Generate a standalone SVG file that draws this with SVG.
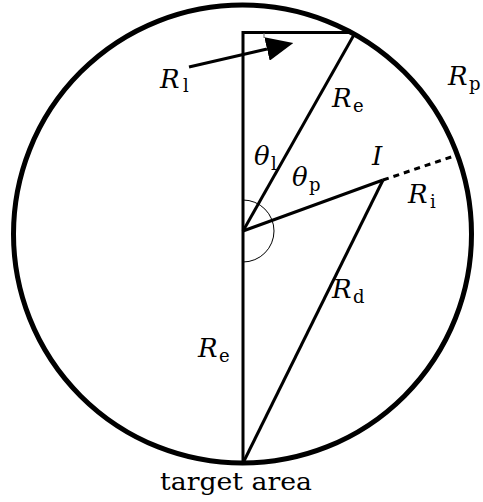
<svg xmlns="http://www.w3.org/2000/svg" width="483" height="502" viewBox="0 0 483 502">
<style>
  .ln{stroke:#000;stroke-width:3;fill:none;stroke-linecap:butt}
</style>
<defs>
  <marker id="ah" markerUnits="userSpaceOnUse" viewBox="0 0 27 24" refX="0" refY="12" markerWidth="27" markerHeight="24" orient="auto">
    <path d="M0,0 L27,12 L0,24 Z" fill="#000"/>
  </marker>
</defs>
<rect width="483" height="502" fill="#fff"/>
<g id="planet">
  <circle cx="242.5" cy="234" r="229" fill="none" stroke="#000" stroke-width="5"/>
</g>
<g id="connectors">
  <path class="ln" d="M243,463 L243,32.5 L353,32.5"/>
  <line class="ln" x1="243" y1="231" x2="355" y2="33"/>
  <line class="ln" x1="243" y1="231" x2="383" y2="180"/>
  <line class="ln" x1="383" y1="180" x2="243" y2="463"/>
  <line class="ln" x1="383" y1="180" x2="457" y2="155" stroke-dasharray="6,5"/>
  <path d="M243,200 A31,31 0 0 1 243,262" fill="none" stroke="#000" stroke-width="1"/>
  <line x1="264" y1="33" x2="264" y2="38" stroke="#666" stroke-width="1"/>
  <line class="ln" x1="189" y1="67" x2="267" y2="49" marker-end="url(#ah)"/>
</g>
<g font-family="DejaVu Serif, serif" fill="#000">
<g id="label-Rl"><text font-style="italic" font-size="26" x="160" y="88">R</text><text font-size="18" x="183" y="92">l</text></g>
<g id="label-Re-top"><text font-style="italic" font-size="26" x="332" y="107">R</text><text font-size="18" x="353" y="112">e</text></g>
<g id="label-Rp"><text font-style="italic" font-size="26" x="448" y="85">R</text><text font-size="18" x="469" y="90">p</text></g>
<g id="label-theta-l"><text font-style="italic" font-size="26" x="254" y="165">θ</text><text font-size="18" x="271" y="170">l</text></g>
<g id="label-theta-p"><text font-style="italic" font-size="26" x="292" y="186">θ</text><text font-size="18" x="309" y="191">p</text></g>
<g id="label-I"><text font-style="italic" font-size="26" x="372" y="165">I</text></g>
<g id="label-Ri"><text font-style="italic" font-size="26" x="408" y="203">R</text><text font-size="18" x="430" y="208">i</text></g>
<g id="label-Rd"><text font-style="italic" font-size="26" x="332" y="298">R</text><text font-size="18" x="353" y="303">d</text></g>
<g id="label-Re-bottom"><text font-style="italic" font-size="26" x="198" y="357">R</text><text font-size="18" x="219" y="362">e</text></g>
<g id="label-target"><text font-size="24" x="160" y="490" textLength="152" lengthAdjust="spacingAndGlyphs">target area</text></g>
</g>
</svg>
